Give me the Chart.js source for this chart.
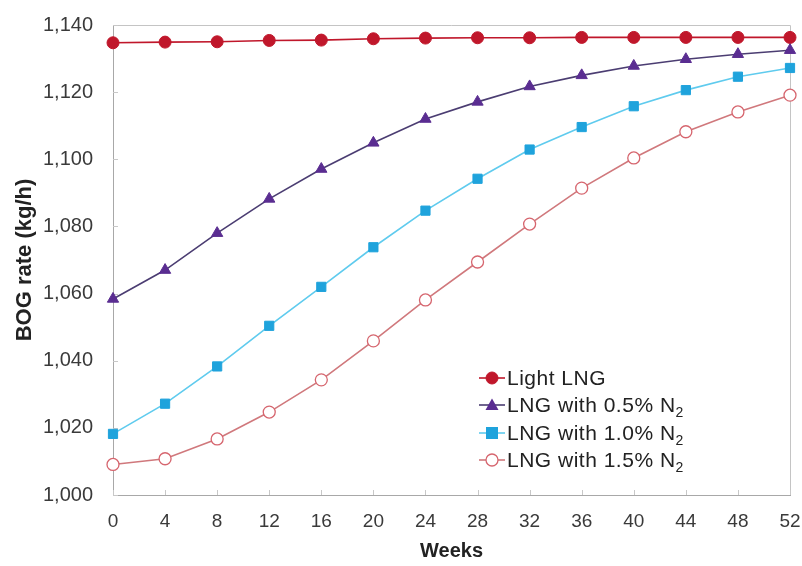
<!DOCTYPE html>
<html>
<head>
<meta charset="utf-8">
<script src="https://cdn.jsdelivr.net/npm/chart.js@4.4.1/dist/chart.umd.min.js"></script>
<style>
  html, body { margin: 0; padding: 0; background: #fff; }
  #wrap { position: relative; width: 802px; height: 566px; }
  #legend { position: absolute; left: 478px; top: 364px; font-family: "Liberation Sans", Arial, sans-serif; font-size: 21px; letter-spacing: 0.5px; color: #222; }
  #legend .row { height: 27.5px; display: flex; align-items: center; white-space: nowrap; }
  #legend svg { margin-right: 1px; }
  #legend sub { font-size: 14px; vertical-align: -5px; line-height: 0; }
</style>
</head>
<body>
<div id="wrap">
  <canvas id="c" width="802" height="566"></canvas>
  <div id="legend"></div>
</div>
<script>
const weeks = [0, 4, 8, 12, 16, 20, 24, 28, 32, 36, 40, 44, 48, 52];
const seriesNames = ["Light LNG", "LNG with 0.5% N", "LNG with 1.0% N", "LNG with 1.5% N"];
const lightLNG = [1134.7, 1134.9, 1135.0, 1135.4, 1135.5, 1135.9, 1136.1, 1136.2, 1136.2, 1136.3, 1136.3, 1136.3, 1136.3, 1136.3];
const n2_05 = [1058.4, 1067.0, 1078.0, 1088.2, 1097.1, 1104.9, 1112.0, 1117.1, 1121.7, 1125.0, 1127.8, 1129.8, 1131.3, 1132.5];
const n2_10 = [1018.2, 1027.2, 1038.3, 1050.4, 1062.0, 1073.8, 1084.7, 1094.2, 1102.9, 1109.6, 1115.8, 1120.6, 1124.6, 1127.2];
const n2_15 = [1009.1, 1010.8, 1016.7, 1024.7, 1034.3, 1045.9, 1058.1, 1069.4, 1080.7, 1091.4, 1100.4, 1108.2, 1114.1, 1119.1];
const yTickValues = [1000, 1020, 1040, 1060, 1080, 1100, 1120, 1140];

const styles = [
  { line: "#c0172b", fill: "#c0172b", border: "#c0172b", shape: "circle", r: 6 },
  { line: "#4b3d72", fill: "#5a2d91", border: "#5a2d91", shape: "triangle", r: 6.5 },
  { line: "#5fcbee", fill: "#1fa3dc", border: "#1fa3dc", shape: "rect", r: 6.5 },
  { line: "#d0787c", fill: "#ffffff", border: "#d6656e", shape: "circle", r: 6 }
];
const allData = [lightLNG, n2_05, n2_10, n2_15];

const datasets = allData.map((vals, i) => ({
  label: seriesNames[i] + (i > 0 ? "2" : ""),
  data: weeks.map((w, j) => ({ x: w, y: vals[j] })),
  borderColor: styles[i].line,
  borderWidth: 1.6,
  backgroundColor: styles[i].fill,
  pointBackgroundColor: styles[i].fill,
  pointBorderColor: styles[i].border,
  pointBorderWidth: i === 3 ? 1.3 : 1,
  pointStyle: styles[i].shape,
  pointRadius: styles[i].r,
  tension: 0,
  clip: false
})).reverse();

const FONT = "'Liberation Sans', Arial, sans-serif";

const framePlugin = {
  id: 'frame',
  beforeDatasetsDraw(chart) {
    const { ctx, chartArea: a, scales } = chart;
    ctx.save();
    ctx.strokeStyle = '#c4c4c4';
    ctx.lineWidth = 1;
    ctx.beginPath();
    ctx.moveTo(a.left, a.top + 0.5);
    ctx.lineTo(a.right + 0.5, a.top + 0.5);
    ctx.lineTo(a.right + 0.5, a.bottom);
    ctx.stroke();
    ctx.strokeStyle = '#c8c8c8';
    ctx.beginPath();
    weeks.forEach(w => {
      const px = Math.round(scales.x.getPixelForValue(w)) + 0.5;
      ctx.moveTo(px, a.bottom);
      ctx.lineTo(px, a.bottom - 5);
    });
    yTickValues.forEach(v => {
      const py = Math.round(scales.y.getPixelForValue(v)) + 0.5;
      ctx.moveTo(a.left, py);
      ctx.lineTo(a.left + 5, py);
    });
    ctx.stroke();
    ctx.restore();
  }
};

new Chart(document.getElementById('c'), {
  type: 'line',
  data: { datasets },
  options: {
    responsive: false,
    animation: false,
    devicePixelRatio: 1,
    layout: { padding: { left: 0, right: 12, top: 25, bottom: 0 } },
    plugins: { legend: { display: false }, tooltip: { enabled: false } },
    scales: {
      x: {
        type: 'linear', min: 0, max: 52,
        afterFit(s) { s.height = 71; s.paddingLeft = 0; s.paddingRight = 0; },
        afterBuildTicks(s) { s.ticks = weeks.map(v => ({ value: v })); },
        ticks: { font: { family: FONT, size: 19 }, color: '#3a3a3a', padding: 15, maxRotation: 0, autoSkip: false },
        grid: { display: true, drawOnChartArea: false, drawTicks: false },
        border: { display: true, color: '#a8a8a8', width: 1 },
        title: { display: true, text: 'Weeks', font: { family: FONT, size: 20, weight: 'bold' }, color: '#222', padding: { top: 0, bottom: 3 } }
      },
      y: {
        type: 'linear', min: 1000, max: 1140,
        afterFit(s) { s.width = 113; s.paddingTop = 0; s.paddingBottom = 0; },
        afterBuildTicks(s) { s.ticks = yTickValues.map(v => ({ value: v })); },
        ticks: { font: { family: FONT, size: 20 }, color: '#3a3a3a', padding: 20,
          callback: v => v.toLocaleString('en-US') },
        grid: { display: true, drawOnChartArea: false, drawTicks: false },
        border: { display: true, color: '#a8a8a8', width: 1 },
        title: { display: true, text: 'BOG rate (kg/h)', font: { family: FONT, size: 22, weight: 'bold' }, color: '#222', padding: { top: 12, bottom: 0 } }
      }
    }
  },
  plugins: [framePlugin]
});

// HTML legend (for subscripts)
const legend = document.getElementById('legend');
styles.forEach((st, i) => {
  const row = document.createElement('div');
  row.className = 'row';
  let marker = '';
  if (st.shape === 'circle') marker = `<circle cx="14" cy="10" r="${st.r}" fill="${st.fill}" stroke="${st.border}" stroke-width="${i===3?1.3:1}"/>`;
  if (st.shape === 'triangle') marker = `<polygon points="14,3.5 20.5,15 7.5,15" fill="${st.fill}"/>`;
  if (st.shape === 'rect') marker = `<rect x="8" y="4" width="12" height="12" fill="${st.fill}"/>`;
  row.innerHTML = `<svg width="28" height="20"><line x1="1" y1="10" x2="27" y2="10" stroke="${st.line}" stroke-width="1.6"/>${marker}</svg>` +
    `<span>${seriesNames[i]}${i > 0 ? '<sub>2</sub>' : ''}</span>`;
  legend.appendChild(row);
});
</script>
</body>
</html>
